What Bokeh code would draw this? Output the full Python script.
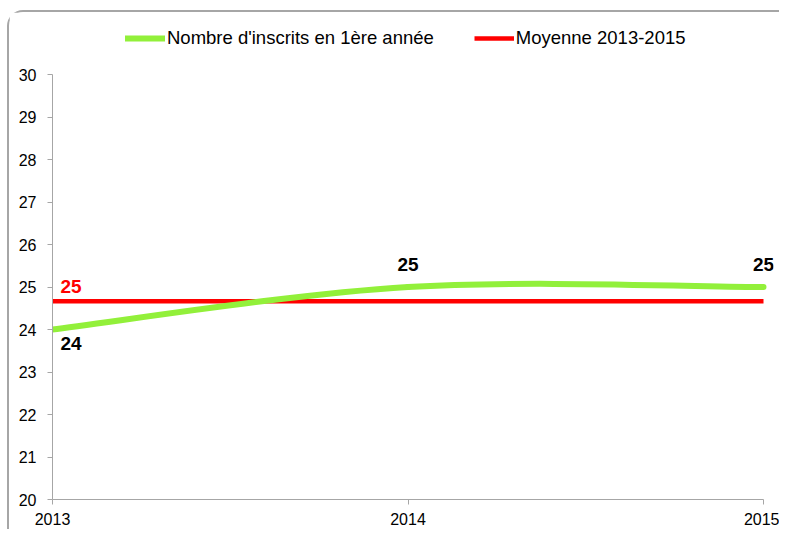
from bokeh.plotting import figure
from bokeh.models import Range1d, Legend, LegendItem, FixedTicker, ColumnDataSource
from bokeh.core.properties import value
from bokeh.embed import file_html
from bokeh.resources import INLINE

years = [2013, 2014, 2015]
inscrits = [24, 25, 25]
y_ticks = [20, 21, 22, 23, 24, 25, 26, 27, 28, 29, 30]
serie_label = "Nombre d'inscrits en 1ère année"
moyenne_label = "Moyenne 2013-2015"

moyenne = sum(inscrits) / len(inscrits)

FONT = "Liberation Sans"
GREEN = "#92f03a"
RED = "#ff0000"

W, H = 772, 519
LEFT, RIGHT, TOP, BOTTOM = 43, 8, 2, 32
px_per_year = 711 / 2
px_per_unit = 425 / 10
x_end = years[0] + (W - LEFT - RIGHT) / px_per_year
y_end = y_ticks[0] + (H - TOP - BOTTOM) / px_per_unit

p = figure(width=W, height=H, output_backend="svg", toolbar_location=None,
           x_range=Range1d(years[0], x_end), y_range=Range1d(y_ticks[0], y_end),
           min_border_left=LEFT, min_border_right=RIGHT, min_border_top=TOP,
           min_border_bottom=BOTTOM)
p.styles = {"border-top": "2px solid #a6a6a6", "border-left": "2px solid #a6a6a6",
            "border-top-left-radius": "16px", "margin-left": "7px", "margin-top": "10px"}
p.outline_line_color = None
p.grid.visible = False
p.background_fill_color = "white"
p.border_fill_color = "white"

# smoothed line (Excel-like smoothing) through the data points
n = len(years)
x0, y0, x1, y1, cx0, cy0, cx1, cy1 = [], [], [], [], [], [], [], []
for i in range(n - 1):
    pm = (years[max(i - 1, 0)], inscrits[max(i - 1, 0)])
    pa = (years[i], inscrits[i])
    pb = (years[i + 1], inscrits[i + 1])
    pn = (years[min(i + 2, n - 1)], inscrits[min(i + 2, n - 1)])
    x0.append(pa[0]); y0.append(pa[1]); x1.append(pb[0]); y1.append(pb[1])
    cx0.append(pa[0] + (pb[0] - pm[0]) / 6); cy0.append(pa[1] + (pb[1] - pm[1]) / 6)
    cx1.append(pb[0] - (pn[0] - pa[0]) / 6); cy1.append(pb[1] - (pn[1] - pa[1]) / 6)
bz = ColumnDataSource(dict(x0=x0, y0=y0, x1=x1, y1=y1, cx0=cx0, cy0=cy0, cx1=cx1, cy1=cy1))

r_mean = p.line([years[0], years[-1]], [moyenne, moyenne], line_color=RED, line_width=4.5)
r_green = p.bezier(x0="x0", y0="y0", x1="x1", y1="y1", cx0="cx0", cy0="cy0",
                   cx1="cx1", cy1="cy1", source=bz, line_color=GREEN, line_width=6,
                   line_cap="round")
r_green_leg = p.line([years[0]], [inscrits[0]], line_color=GREEN, line_width=6, line_cap="round")

# data labels
lab = ColumnDataSource(dict(x=years, y=inscrits, t=[str(v) for v in inscrits],
                            xo=[8, 0, 0], yo=[7, -16, -16],
                            al=["left", "center", "center"],
                            bl=["top", "bottom", "bottom"]))
p.text(x="x", y="y", text="t", source=lab, x_offset="xo", y_offset="yo",
       text_align="al", text_baseline="bl", text_font=value(FONT),
       text_font_style="bold", text_font_size="19px", text_color="black")
p.text(x=[years[0]], y=[moyenne], text=[str(round(moyenne))], x_offset=8, y_offset=-8,
       text_align="left", text_baseline="bottom", text_font=value(FONT),
       text_font_style="bold", text_font_size="19px", text_color=RED)

for ax in (p.xaxis[0], p.yaxis[0]):
    ax.axis_line_color = "#a6a6a6"
    ax.major_tick_line_color = "#a6a6a6"
    ax.minor_tick_line_color = None
    ax.major_tick_in = 0
    ax.major_tick_out = 5
    ax.major_label_text_font = FONT
    ax.major_label_text_font_size = "16px"
    ax.major_label_text_color = "black"
p.xaxis.bounds = (years[0], years[-1])
p.yaxis.bounds = (y_ticks[0], y_ticks[-1])
p.xaxis.ticker = FixedTicker(ticks=years)
p.yaxis.ticker = FixedTicker(ticks=y_ticks)
p.xaxis.major_label_standoff = 8
p.yaxis.major_label_standoff = 11

legend = Legend(items=[LegendItem(label=serie_label, renderers=[r_green_leg]),
                       LegendItem(label=moyenne_label, renderers=[r_mean])],
                orientation="horizontal", location=(73, 450),
                glyph_width=40, glyph_height=20, label_standoff=2, spacing=40,
                padding=0, margin=0, border_line_color=None, background_fill_alpha=0,
                label_text_font=FONT, label_text_font_size="18.5px", label_text_color="black")
p.add_layout(legend, "center")

open("out.html", "w").write(file_html(p, INLINE))
